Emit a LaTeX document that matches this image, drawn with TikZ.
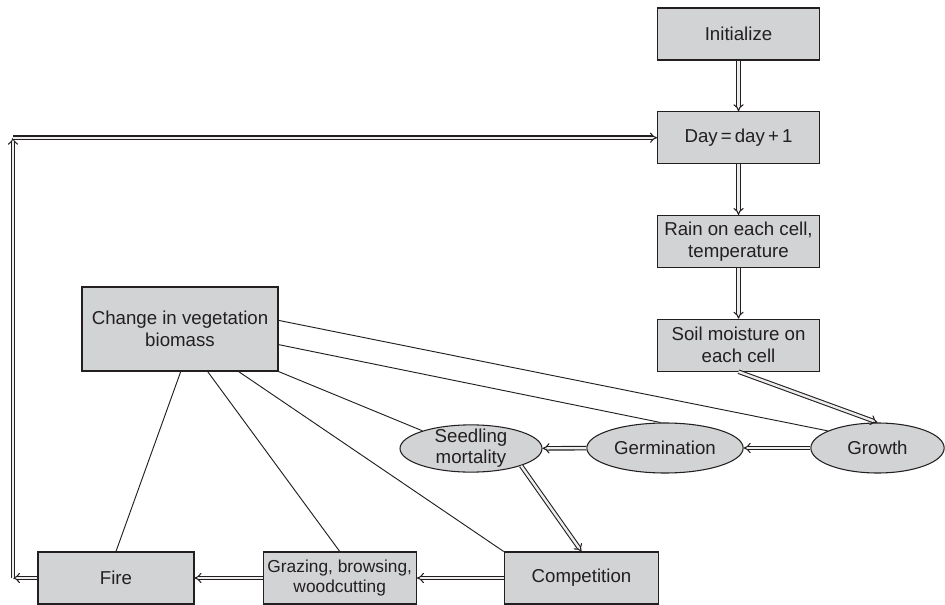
\documentclass[tikz,border=0pt]{standalone}
\usepackage{fontspec}
\setmainfont{Liberation Sans}
\usetikzlibrary{shapes.geometric, arrows.meta, positioning}
\definecolor{boxgray}{HTML}{D1D3D4}
\definecolor{inkgray}{HTML}{231F20}

\begin{document}
\begin{tikzpicture}[
  x=0.75pt, y=-0.75pt,
  node distance=38pt and 60pt,
  box/.style={rectangle, draw=inkgray, fill=boxgray, text=inkgray, line width=0.8pt,
              minimum width=121.5pt, minimum height=39pt, align=center,
              font=\fontsize{14}{16.5}\selectfont},
  oval/.style={ellipse, draw=inkgray, fill=boxgray, text=inkgray, line width=0.8pt,
              minimum height=37.5pt, align=center, font=\fontsize{14}{16}\selectfont},
  flow/.style={-{Implies[length=5pt, width=9pt]}, draw=inkgray, double=boxgray!40,
               double distance=1.8pt, line width=0.8pt},
  link/.style={draw=inkgray, line width=0.7pt}
]
\useasboundingbox (0,0) rectangle (945,605);

% daily loop, right column
\node[box] (init) at (738.5,34) {Initialize};
\node[box, below=of init] (day) {Day\,=\,day\,+\,1};
\node[box, below=of day] (rain) {Rain on each cell,\\temperature};
\node[box, below=of rain] (soil) {Soil moisture on\\each cell};

% vegetation processes
\node[oval, minimum width=100pt] (growth) at (877.5,448) {Growth};
\node[oval, minimum width=102pt] (germ) at (665,448) {Germination};
\node[oval, minimum width=106.5pt, minimum height=35pt, inner ysep=-2pt] (seedling) at (471,448.5) {Seedling\\mortality};
\node[box, minimum width=147pt, minimum height=63pt] (change) at (180,329) {Change in vegetation\\biomass};

% bottom row
\node[box, minimum width=116pt] (compete) at (581.5,578) {Competition};
\node[box, minimum width=115pt, left=65pt of compete, font=\fontsize{13}{15}\selectfont] (graze) {Grazing, browsing,\\woodcutting};
\node[box, minimum width=117pt, left=51pt of graze] (fire) {Fire};

\coordinate (turnlow) at (13,0 |- fire.west);
\coordinate (turnhigh) at (13,0 |- day.west);

\draw[flow] (init) -- (day);
\draw[flow] (day) -- (rain);
\draw[flow] (rain) -- (soil);
\draw[flow] (soil.south) -- (growth.north);
\draw[flow] (growth) -- (germ);
\draw[flow] (germ) -- (seedling);
\draw[flow] (seedling.-19) -- (compete.north);
\draw[flow] (compete) -- (graze);
\draw[flow] (graze) -- (fire);
\draw[flow] (fire) -- (turnlow);
\draw[flow] (turnlow) -- (turnhigh);
\draw[flow] (turnhigh) -- (day);

\draw[link] (change.5) -- (growth.161);
\draw[link] (change.-9) -- (germ.100);
\draw[link] (change.south east) -- (seedling.160);
\draw[link] (change.-36) -- (compete.north west);
\draw[link] (change.-57) -- (graze.north);
\draw[link] (change.-89) -- (fire.north);

\end{tikzpicture}
\end{document}
